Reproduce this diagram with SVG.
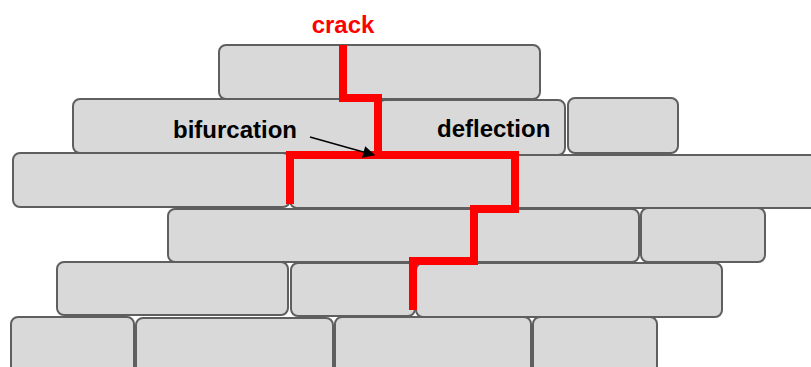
<svg xmlns="http://www.w3.org/2000/svg" width="811" height="367" viewBox="0 0 811 367">
<style>
.b{fill:#d9d9d9;stroke:#5f5f5f;stroke-width:2}
.t{font-family:"Liberation Sans",Arial,sans-serif;font-weight:bold;font-size:24px}
.crack{fill:none;stroke:#ff0000;stroke-width:8;stroke-linejoin:miter;stroke-linecap:butt}
</style>
<defs>
<marker id="ah" viewBox="0 0 10 10" refX="9" refY="5" markerWidth="16" markerHeight="12" markerUnits="userSpaceOnUse" orient="auto">
<path d="M0,0 L10,5 L0,10 z" fill="#000"/>
</marker>
</defs>
<rect width="811" height="367" fill="#fff"/>
<g id="bricks">
<g id="r1b1"><rect class="b" x="219" y="45" width="321" height="54" rx="7"/></g>
<g id="r2b1"><rect class="b" x="73" y="99" width="305" height="54" rx="7"/></g>
<g id="r2b2"><rect class="b" x="378" y="100" width="187" height="55" rx="7"/></g>
<g id="r2b3"><rect class="b" x="568" y="98" width="110" height="55" rx="7"/></g>
<g id="r3b1"><rect class="b" x="13" y="153" width="277" height="54" rx="7"/></g>
<g id="r3b2"><rect class="b" x="290" y="155" width="540" height="53" rx="7"/></g>
<g id="r4b1"><rect class="b" x="168" y="209" width="471" height="53" rx="7"/></g>
<g id="r4b2"><rect class="b" x="641" y="208" width="124" height="54" rx="7"/></g>
<g id="r5b1"><rect class="b" x="57" y="262" width="231" height="53" rx="7"/></g>
<g id="r5b2"><rect class="b" x="291" y="263" width="124" height="53" rx="7"/></g>
<g id="r5b3"><rect class="b" x="416" y="263" width="306" height="54" rx="7"/></g>
<g id="r6b1"><rect class="b" x="11" y="317" width="123" height="60" rx="7"/></g>
<g id="r6b2"><rect class="b" x="136" y="318" width="197" height="60" rx="7"/></g>
<g id="r6b3"><rect class="b" x="335" y="317" width="196" height="60" rx="7"/></g>
<g id="r6b4"><rect class="b" x="533" y="317" width="124" height="60" rx="7"/></g>
</g>
<g id="connectors">
<path class="crack" d="M343,45 V98 H378 V155 M290,204 V155 H515 V209 H474 V261 H413 V310"/>
<line x1="310" y1="137" x2="374" y2="155" stroke="#000" stroke-width="1.3" marker-end="url(#ah)"/>
</g>
<g id="labels">
<text class="t" x="343" y="33" fill="#ff0000" text-anchor="middle">crack</text>
<text class="t" x="173" y="138" fill="#000">bifurcation</text>
<text class="t" x="437" y="137" fill="#000">deflection</text>
</g>
</svg>
